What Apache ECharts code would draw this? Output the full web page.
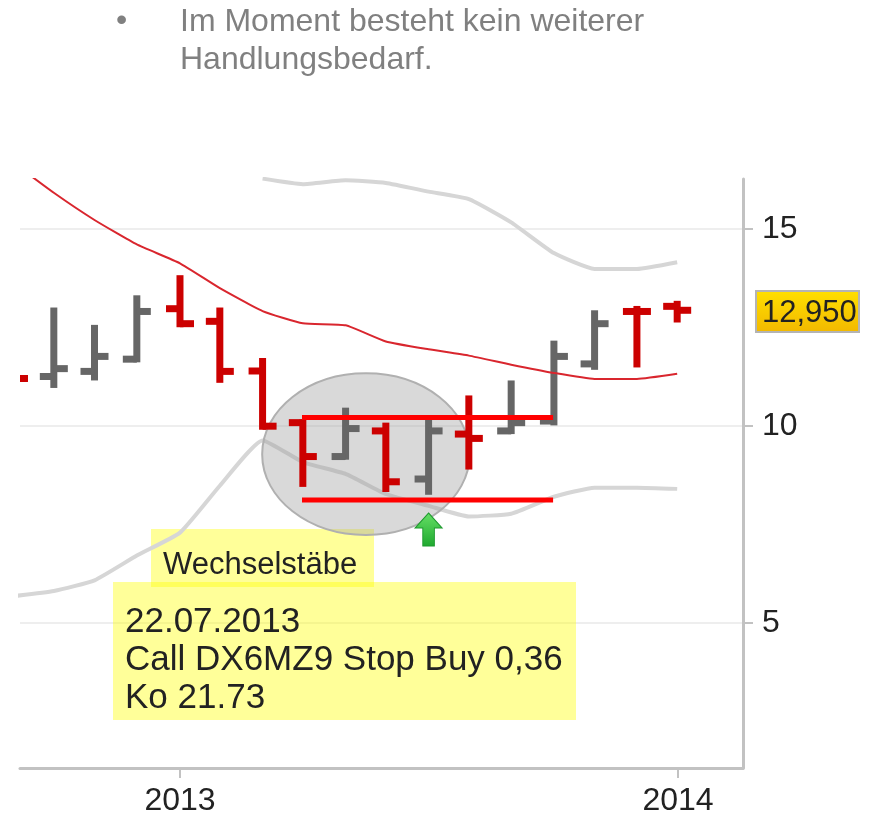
<!DOCTYPE html>
<html><head><meta charset="utf-8">
<style>html,body{margin:0;padding:0;background:#fff}#c{width:869px;height:817px}</style>
<script src="https://cdn.jsdelivr.net/npm/echarts@6/dist/echarts.min.js"></script>
</head><body><div id="c"></div>
<script>
// month position: 0 = Jan 2013, 12 = Jan 2014
const months = [-4,-3.04,-2.06,-1.04,0,0.96,1.99,2.96,3.99,4.96,5.99,6.96,7.98,9.01,9.99,11.01,11.98];
const opens  = [11.7,11.25,11.38,11.69,12.97,12.65,11.39,10.08,9.22,9.87,8.65,9.79,9.87,10.12,11.57,12.9,13.03];
const highs  = [11.9,13.0,12.56,13.31,13.82,13.0,11.72,10.16,10.46,10.08,10.25,10.77,11.15,12.16,12.93,13.04,13.17];
const lows   = [11.0,10.96,11.15,11.61,12.5,11.09,9.9,8.45,9.14,8.32,8.25,8.89,9.79,10.01,11.42,11.48,12.62];
const closes = [11.2,11.45,11.76,12.9,12.59,11.38,9.99,9.22,9.93,8.58,9.87,9.68,10.08,11.76,12.59,12.9,12.93];
const barColors = ['r','g','g','g','r','r','r','r','g','r','g','r','g','g','g','r','r'];
const avgLine   = [16.66,15.91,15.22,14.6,14.12,13.49,12.91,12.6,12.55,12.14,11.94,11.78,11.55,11.34,11.19,11.19,11.32];
const upperBand = [null,null,null,null,null,null,16.27,16.13,16.23,16.16,15.94,15.75,15.16,14.38,13.98,13.98,14.15];
const lowerBand = [5.68,5.81,6.08,6.71,7.29,8.48,9.63,9.08,8.78,8.27,7.97,7.70,7.77,8.2,8.43,8.43,8.4];
const resistance = [[2.94,10.21],[8.99,10.21]];
const support    = [[2.94,8.12],[8.99,8.12]];
const ellipse    = [[4.48,9.28,2.5,2.05]]; // centre month, centre value, radius months, radius value
const signal     = [[5.99,7.37]];
const yTicks = [5,10,15];
const xTicks = {0:'2013',12:'2014'};
const lastPrice = '12,950';

const RED='#cc0000', GREY='#666666', AXIS='#c2c2c2';
const zip=a=>months.map((m,i)=>[m,a[i]]);
const chart=echarts.init(document.getElementById('c'),null,{renderer:'canvas'});
chart.setOption({
  animation:false,
  backgroundColor:'#fff',
  grid:{left:20,right:126,top:179,bottom:45,containLabel:false},
  xAxis:{type:'value',min:-3.855,max:13.566,
    axisLine:{onZero:false,lineStyle:{color:AXIS,width:3}},
    axisTick:{customValues:[0,12],length:10,lineStyle:{color:AXIS,width:2}},
    axisLabel:{customValues:[0,12],formatter:v=>xTicks[v],fontFamily:'Liberation Sans',fontSize:32,color:'#222',margin:17,hideOverlap:false},
    splitLine:{show:false}},
  yAxis:{type:'value',position:'right',min:1.32,max:16.26,
    axisLine:{show:true,onZero:false,lineStyle:{color:AXIS,width:3}},
    axisTick:{show:true,customValues:yTicks,length:10,lineStyle:{color:AXIS,width:2}},
    axisLabel:{customValues:yTicks,fontFamily:'Liberation Sans',fontSize:32,color:'#222',margin:19},
    splitLine:{show:true,lineStyle:{color:'#eeeeee',width:2}}},
  graphic:[
    {type:'text',left:116,top:5,z:10,style:{text:'•',fontFamily:'Liberation Sans',fontSize:32,fill:'#808080'}},
    {type:'text',left:180,top:3,z:10,style:{text:'Im Moment besteht kein weiterer\nHandlungsbedarf.',fontFamily:'Liberation Sans',fontSize:32,lineHeight:38,fill:'#808080'}},
    {type:'rect',z:1,shape:{x:151,y:529,width:223,height:58},style:{fill:'rgba(255,255,0,0.4)'}},
    {type:'rect',z:1,shape:{x:113,y:582,width:463,height:138},style:{fill:'rgba(255,255,0,0.4)'}},
    {type:'text',left:163,top:550,z:10,style:{text:'Wechselstäbe',fontFamily:'Liberation Sans',fontSize:31,fill:'#222'}},
    {type:'text',left:125,top:603,z:10,style:{text:'22.07.2013\nCall DX6MZ9 Stop Buy 0,36\nKo 21.73',fontFamily:'Liberation Sans',fontSize:35,lineHeight:38,fill:'#222'}},
    {type:'rect',z:10,shape:{x:756,y:291,width:103,height:41},
      style:{fill:new echarts.graphic.LinearGradient(0,0,0,1,[{offset:0,color:'#ffe000'},{offset:1,color:'#f2b800'}]),stroke:'#b4b4b4',lineWidth:2}},
    {type:'text',left:762,top:298,z:11,style:{text:lastPrice,fontFamily:'Liberation Sans',fontSize:31,fill:'#222'}}
  ],
  series:[
    {type:'line',name:'lower',z:2,data:zip(lowerBand),symbol:'none',smooth:0.15,lineStyle:{color:'#d6d6d6',width:4}},
    {type:'line',name:'upper',z:2,data:zip(upperBand),symbol:'none',smooth:0.15,connectNulls:false,lineStyle:{color:'#d6d6d6',width:4}},
    {type:'custom',name:'ellipse',z:3,clip:false,data:ellipse,
      renderItem:(p,api)=>{
        const c=api.coord([api.value(0),api.value(1)]);
        const s=api.size([api.value(2),api.value(3)]);
        return {type:'ellipse',shape:{cx:c[0],cy:c[1],rx:s[0],ry:s[1]},
          style:{fill:'rgba(160,160,160,0.4)',stroke:'#b0b0b0',lineWidth:2}};
      }},
    {type:'custom',name:'ohlc',z:4,
      data:months.map((m,i)=>[m,opens[i],highs[i],lows[i],closes[i],i]),
      renderItem:(p,api)=>{
        const x=api.coord([api.value(0),0])[0];
        const y=k=>api.coord([0,api.value(k)])[1];
        const color=barColors[api.value(5)]==='r'?RED:GREY;
        const st={fill:color};
        const w=7,t=7,e=10.5;
        return {type:'group',
          clipPath:{type:'rect',shape:{x:p.coordSys.x,y:p.coordSys.y,width:p.coordSys.width,height:p.coordSys.height}},
          children:[
            {type:'rect',shape:{x:x-w/2,y:y(2),width:w,height:y(3)-y(2)},style:st},
            {type:'rect',shape:{x:x-w/2-e,y:y(1)-t/2,width:e+w/2,height:t},style:st},
            {type:'rect',shape:{x:x,y:y(4)-t/2,width:e+w/2,height:t},style:st}
          ]};
      }},
    {type:'line',name:'avg',z:5,data:zip(avgLine),symbol:'none',smooth:0.15,lineStyle:{color:'#d9262e',width:2}},
    {type:'line',name:'res',z:6,data:resistance,symbol:'none',lineStyle:{color:'#ff0000',width:5}},
    {type:'line',name:'sup',z:6,data:support,symbol:'none',lineStyle:{color:'#ff0000',width:5}},
    {type:'scatter',name:'signal',z:7,data:signal,
      symbol:'path://M14 0 L28 15 L20 15 L20 33 L8 33 L8 15 L0 15 Z',symbolSize:[27,33],symbolKeepAspect:false,
      itemStyle:{color:new echarts.graphic.LinearGradient(0,0,0,1,[{offset:0,color:'#66e066'},{offset:1,color:'#1fa82f'}]),borderColor:'#1f9a2f',borderWidth:1,opacity:1}}
  ]
});
</script></body></html>
